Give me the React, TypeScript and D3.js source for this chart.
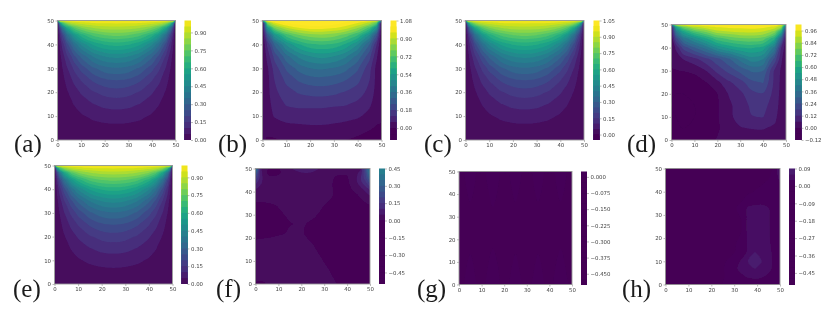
import React, { useEffect, useRef } from 'react';
import * as d3 from 'd3';

// grid nodes the values were read at (denser where the field changes fast)
const halfXs = [0, 1, 2, 4, 7, 10, 15, 20, 25];
const wideXs = [0, 2, 5, 10, 15, 20, 25, 30, 35, 40, 45, 48, 50];
const wideYs = [0, 5, 10, 15, 20, 25, 30, 35, 40, 44, 47, 49, 50];
const fXs = [0, 2, 4, 6, 10, 15, 20, 25, 30, 35, 40, 44, 46, 48, 50];
const fYs = [0, 6, 12, 18, 22, 26, 30, 34, 38, 41, 44, 46, 48, 50];
const gXs = [0, 5, 10, 15, 20, 25, 30, 35, 40, 45, 50];
const gYs = [0, 2, 25, 48, 49, 50];
const hXs = [0, 10, 20, 25, 30, 33, 36, 39, 42, 45, 47, 50];
const hYs = [0, 3, 7, 10, 14, 18, 23, 28, 33, 36, 40, 44, 47, 50];

// left half of the symmetric field in (a), (c), (e), bottom row first
const lidHalfRows = [
  [0, 0, 0, 0, 0, 0, 0, 0, 0],
  [0, .002, .004, .009, .015, .021, .029, .034, .036],
  [0, .005, .009, .019, .032, .044, .061, .071, .075],
  [0, .008, .015, .03, .052, .072, .098, .115, .121],
  [0, .011, .023, .045, .077, .106, .145, .168, .177],
  [0, .017, .033, .066, .112, .153, .207, .239, .25],
  [0, .024, .048, .095, .161, .218, .289, .332, .345],
  [0, .036, .072, .142, .236, .312, .403, .452, .468],
  [0, .059, .117, .225, .359, .457, .557, .606, .621],
  [0, .103, .2, .364, .531, .63, .717, .755, .766],
  [0, .204, .373, .586, .734, .802, .854, .875, .881],
  [0, .5, .705, .842, .907, .932, .951, .958, .96],
  [.5, .99, .99, .99, .99, .99, .99, .99, .99],
];

const bRows = [
  [.005, -.005, -.005, .005, .01, .01, .01, .005, 0, -.01, -.02, -.01, -.005],
  [.01, .015, .025, .04, .045, .05, .05, .045, .035, .02, .005, -.005, -.005],
  [.01, .03, .065, .085, .09, .09, .09, .085, .08, .07, .04, .015, .005],
  [.01, .035, .085, .125, .135, .135, .135, .13, .125, .105, .07, .03, .01],
  [.005, .04, .105, .155, .185, .2, .205, .195, .175, .15, .1, .035, .005],
  [0, .04, .12, .195, .245, .27, .275, .265, .24, .195, .12, .04, 0],
  [-.005, .05, .145, .25, .32, .36, .37, .355, .32, .25, .14, .04, -.005],
  [0, .08, .2, .34, .43, .48, .5, .48, .43, .34, .2, .07, -.005],
  [0, .13, .31, .49, .59, .65, .665, .65, .59, .48, .3, .12, 0],
  [0, .27, .52, .7, .78, .82, .83, .81, .76, .67, .48, .25, 0],
  [0, .52, .78, .9, .96, .99, .99, .97, .93, .85, .7, .48, 0],
  [0, .8, .95, 1.03, 1.06, 1.07, 1.07, 1.05, 1.01, .96, .88, .75, 0],
  [.6, 1, 1.03, 1.07, 1.08, 1.08, 1.08, 1.07, 1.05, 1.02, 1, .95, .5],
];

const dRows = [
  [-.03, -.03, -.03, -.03, -.02, .003, .01, .02, .03, .03, .02, .01, .005],
  [-.04, -.05, -.06, -.05, -.03, -.005, .02, .055, .062, .063, .05, .03, .01],
  [-.05, -.06, -.07, -.06, -.03, -.005, .045, .085, .118, .122, .075, .03, .01],
  [-.06, -.07, -.075, -.06, -.035, -.005, .045, .095, .13, .14, .09, .035, .01],
  [-.05, -.06, -.06, -.05, -.03, 0, .065, .105, .16, .175, .1, .04, .01],
  [-.04, -.04, -.035, -.025, -.002, .045, .11, .155, .225, .245, .105, .045, .01],
  [-.002, -.002, .002, .012, .06, .14, .2, .26, .31, .3, .11, .05, .01],
  [.005, .02, .06, .1, .16, .22, .29, .38, .45, .42, .22, .07, .01],
  [.01, .075, .2, .3, .39, .5, .56, .6, .61, .58, .4, .12, .02],
  [.02, .22, .38, .5, .6, .7, .74, .77, .78, .76, .62, .3, .03],
  [.04, .4, .58, .72, .8, .88, .9, .92, .92, .9, .82, .6, .1],
  [.1, .6, .78, .9, .94, .97, .98, .98, .99, .98, .95, .85, .3],
  [.5, .9, 1, 1.01, 1.01, 1.01, 1.01, 1.01, 1.01, 1.01, 1, .95, .6],
];

const fRows = [
  [-.002, -.003, -.002, .005, .01, .012, .012, .012, .01, .001, -.01, -.015, -.015, -.015, -.01],
  [.01, .012, .014, .015, .018, .02, .02, .018, .005, -.006, -.015, -.02, -.02, -.02, -.015],
  [.012, .014, .016, .018, .02, .02, .018, .008, -.004, -.012, -.02, -.025, -.025, -.025, -.02],
  [.004, .006, .008, .01, .012, .014, .01, -.001, -.01, -.018, -.025, -.03, -.03, -.03, -.025],
  [-.01, -.01, -.01, -.009, -.004, .003, .002, -.006, -.014, -.02, -.025, -.03, -.03, -.03, -.025],
  [-.015, -.015, -.014, -.012, -.007, -.001, .003, -.004, -.012, -.02, -.025, -.03, -.03, -.03, -.02],
  [-.012, -.012, -.01, -.008, -.003, .003, .008, .004, -.006, -.016, -.022, -.025, -.025, -.02, -.015],
  [-.006, -.006, -.005, -.003, .001, .006, .01, .01, 0, -.01, -.016, -.018, -.016, -.01, -.005],
  [.01, .01, .01, .01, .012, .014, .014, .014, .008, -.003, -.01, -.006, .005, .02, .04],
  [.05, .03, .015, .012, .012, .014, .014, .014, .006, -.002, -.01, .01, .035, .07, .11],
  [.12, .07, .025, .008, .008, .012, .015, .016, .006, -.002, -.01, .04, .09, .14, .22],
  [.2, .09, .015, .003, .005, .012, .018, .02, .008, -.001, -.005, .045, .1, .18, .3],
  [.3, .09, .005, -.004, -.003, .012, .045, .04, .01, .002, .005, .03, .08, .2, .38],
  [.45, .06, .02, -.01, -.008, .04, .09, .08, .02, .005, .008, .02, .045, .2, .4],
];

const gRows = [
  [-.004, .004, -.003, .004, -.004, .004, -.003, .004, -.004, .004, -.002],
  [-.002, .002, -.002, .003, -.002, .002, -.002, .002, -.002, .003, -.002],
  [-.002, -.002, -.002, -.002, -.002, -.002, -.002, -.002, -.002, -.002, -.002],
  [-.002, .002, -.002, .003, -.002, .002, -.002, .002, -.002, .002, -.002],
  [-.002, .002, -.002, .003, -.002, .002, -.002, .002, -.002, .002, -.002],
  [.024, .024, .024, .024, .024, .024, .024, .024, .024, .024, .024],
];

const hRows = [
  [-.03, -.02, -.005, 0, .01, .014, .018, .02, .018, .012, .008, .003],
  [-.03, -.02, -.008, -.002, .012, .022, .03, .032, .03, .024, .014, .004],
  [-.03, -.02, -.01, -.003, .022, .038, .054, .061, .052, .036, .026, .006],
  [-.03, -.02, -.012, -.006, .014, .032, .06, .068, .06, .038, .027, .006],
  [-.03, -.022, -.014, -.008, -.002, .016, .033, .06, .05, .036, .026, .006],
  [-.03, -.022, -.016, -.01, -.004, .008, .034, .045, .044, .033, .024, .006],
  [-.03, -.024, -.018, -.012, -.006, -.001, .036, .04, .04, .032, .023, .006],
  [-.03, -.024, -.018, -.012, -.006, -.001, .036, .04, .04, .032, .02, .005],
  [-.03, -.024, -.018, -.012, -.004, .01, .033, .036, .036, .03, .02, .005],
  [-.03, -.024, -.018, -.012, -.006, -.002, .012, .02, .022, .018, .012, .004],
  [-.03, -.024, -.018, -.014, -.01, -.007, -.005, .001, .008, .012, .012, .005],
  [-.03, -.024, -.018, -.014, -.012, -.01, -.008, -.006, -.004, .004, .022, .03],
  [-.03, -.024, -.018, -.014, -.012, -.01, -.01, -.008, -.007, -.005, .008, .04],
  [-.03, -.024, -.018, -.014, -.012, -.012, -.012, -.012, -.012, -.01, 0, .05],
];

// contour levels and colorbar ticks of each panel
const levelsA = d3.range(0, 21).map(i => i * .05);
const levelsB = d3.range(0, 21).map(i => -.12 + i * .06);
const levelsC = d3.range(0, 23).map(i => -.05 + i * .05);
const levelsD = d3.range(0, 20).map(i => -.12 + i * .06);
const levelsF = d3.range(0, 21).map(i => -.55 + i * .05);
const levelsG = d3.range(0, 22).map(i => -.5 + i * .025);
const levelsH = d3.range(0, 21).map(i => -.51 + i * .03);

const ticksA = [0, .15, .3, .45, .6, .75, .9];
const ticksB = [0, .18, .36, .54, .72, .9, 1.08];
const ticksC = [0, .15, .3, .45, .6, .75, .9, 1.05];
const ticksD = [-.12, 0, .12, .24, .36, .48, .6, .72, .84, .96];
const ticksF = [-.45, -.3, -.15, 0, .15, .3, .45];
const ticksG = [-.45, -.375, -.3, -.225, -.15, -.075, 0];
const ticksH = [-.45, -.36, -.27, -.18, -.09, 0, .09];

const axisTicks = [0, 10, 20, 30, 40, 50];

const mirror = (row: number[]) => [...row, ...row.slice(0, -1).reverse()];
const lidXs = mirror(halfXs).map((v, i) => (i < halfXs.length ? v : 50 - v));
const lidRows = lidHalfRows.map(mirror);

const panels = [
  { label: '(a)', lx: 14, ly: 152, box: [57.5, 20.5, 175.5, 140], cb: [184.5, 191], xs: lidXs, ys: wideYs, rows: lidRows, levels: levelsA, ticks: ticksA, fmt: '.2f' },
  { label: '(b)', lx: 218, ly: 152, box: [262.5, 20.5, 381.5, 140], cb: [390.5, 396.5], xs: wideXs, ys: wideYs, rows: bRows, levels: levelsB, ticks: ticksB, fmt: '.2f' },
  { label: '(c)', lx: 424, ly: 152, box: [465.5, 20.5, 584, 140], cb: [593.5, 599.5], xs: lidXs, ys: wideYs, rows: lidRows, levels: levelsC, ticks: ticksC, fmt: '.2f' },
  { label: '(d)', lx: 627, ly: 152, box: [671.5, 24.5, 786, 140], cb: [795.5, 801.5], xs: wideXs, ys: wideYs, rows: dRows, levels: levelsD, ticks: ticksD, fmt: '.2f' },
  { label: '(e)', lx: 13, ly: 297, box: [54.5, 165.5, 172.5, 284], cb: [181.5, 187.5], xs: lidXs, ys: wideYs, rows: lidRows, levels: levelsA, ticks: ticksA, fmt: '.2f' },
  { label: '(f)', lx: 216, ly: 297, box: [255.5, 168.5, 370, 284], cb: [379, 385], xs: fXs, ys: fYs, rows: fRows, levels: levelsF, ticks: ticksF, fmt: '.2f' },
  { label: '(g)', lx: 417, ly: 297, box: [459, 171.5, 572, 284.5], cb: [581, 587], xs: gXs, ys: gYs, rows: gRows, levels: levelsG, ticks: ticksG, fmt: '.3f' },
  { label: '(h)', lx: 622, ly: 297, box: [665.5, 168.5, 780, 284.5], cb: [789, 795], xs: hXs, ys: hYs, rows: hRows, levels: levelsH, ticks: ticksH, fmt: '.2f' },
];

// colors are clipped to 0..1, that is why the negative bands all look the same
const bandColor = (lo: number, hi: number) =>
  d3.interpolateViridis(Math.max(0, Math.min(1, (lo + hi) / 2)));

export default function App() {
  const ref = useRef<SVGSVGElement>(null);

  useEffect(() => {
    const svg = d3.select(ref.current);
    svg.selectAll('*').remove();

    const defs = svg.append('defs');
    defs.append('filter').attr('id', 'soft').append('feGaussianBlur').attr('stdDeviation', 0.45);
    const root = svg.append('g').attr('filter', 'url(#soft)');

    // closed spline through the contour vertices, the raw ones look too angular
    const ringLine = d3.line().curve(d3.curveCatmullRomClosed.alpha(0.5));

    panels.forEach((p, n) => {
      const [x0, y0, x1, y1] = p.box;
      const x = d3.scaleLinear().domain([0, 50]).range([x0, x1]);
      const y = d3.scaleLinear().domain([0, 50]).range([y1, y0]);

      defs.append('clipPath').attr('id', `clip${n}`)
        .append('rect').attr('x', x0).attr('y', y0).attr('width', x1 - x0).attr('height', y1 - y0);

      const g = root.append('g');
      const nx = p.xs.length, ny = p.ys.length;
      // d3 puts grid node i at coordinate i + 0.5
      const px = d3.scaleLinear().domain(d3.range(nx).map(i => i + .5)).range(p.xs.map(v => x(v))).clamp(true);
      const py = d3.scaleLinear().domain(d3.range(ny).map(i => i + .5)).range(p.ys.map(v => y(v))).clamp(true);
      const ringsToPath = (c: any) =>
        c.coordinates.flat().map((ring: number[][]) => {
          const pts: [number, number][] = [];
          ring.slice(0, -1).forEach(pt => {
            const q: [number, number] = [px(pt[0]), py(pt[1])];
            const last = pts[pts.length - 1];
            if (!last || Math.hypot(q[0] - last[0], q[1] - last[1]) > 0.01) pts.push(q);
          });
          return pts.length > 2 ? ringLine(pts) : '';
        }).join('');

      const bands = d3.pairs(p.levels);
      const plot = g.append('g').attr('clip-path', `url(#clip${n})`);
      plot.append('rect').attr('x', x0).attr('y', y0).attr('width', x1 - x0).attr('height', y1 - y0)
        .attr('fill', bandColor(bands[0][0], bands[0][1]));

      const contours = d3.contours().size([nx, ny]).thresholds(bands.map(b => b[0]).slice(1))(p.rows.flat());
      plot.selectAll('path').data(contours).join('path')
        .attr('d', ringsToPath)
        .attr('fill', (c: any, i: number) => bandColor(bands[i + 1][0], bands[i + 1][1]));

      // axes
      const xAxis = g.append('g').attr('transform', `translate(0,${y1})`)
        .call(d3.axisBottom(x).tickValues(axisTicks).tickSize(2).tickPadding(1.5));
      const yAxis = g.append('g').attr('transform', `translate(${x0},0)`)
        .call(d3.axisLeft(y).tickValues(axisTicks).tickSize(2).tickPadding(1.5));
      g.append('rect').attr('x', x0).attr('y', y0).attr('width', x1 - x0).attr('height', y1 - y0)
        .attr('fill', 'none').attr('stroke', '#9a9a9a').attr('stroke-width', 0.9);

      // colorbar, each band runs down to the bar's foot so no seams show
      const [c0, c1] = p.cb;
      const lo = p.levels[0], hi = p.levels[p.levels.length - 1];
      const cy = d3.scaleLinear().domain([lo, hi]).range([y1, y0]);
      g.append('g').selectAll('rect').data([...bands].reverse()).join('rect')
        .attr('x', c0).attr('width', c1 - c0)
        .attr('y', (b: number[]) => cy(b[1]))
        .attr('height', (b: number[]) => y1 - cy(b[1]))
        .attr('fill', (b: number[]) => bandColor(b[0], b[1]));
      const tf = d3.format(p.fmt);
      const cAxis = g.append('g').attr('transform', `translate(${c1},0)`)
        .call(d3.axisRight(cy).tickValues(p.ticks).tickSize(2).tickPadding(1.5)
          .tickFormat((v: any) => tf(Math.abs(v) < 1e-9 ? 0 : v).replace('-', '\u2212')));

      [xAxis, yAxis, cAxis].forEach(a => {
        a.select('.domain').remove();
        a.selectAll('line').attr('stroke', '#777').attr('stroke-width', 0.5);
        a.selectAll('text').attr('fill', '#444').attr('font-size', 5.4).attr('font-family', 'DejaVu Sans');
      });

      g.append('text').attr('x', p.lx).attr('y', p.ly).text(p.label)
        .attr('font-family', 'Liberation Serif').attr('font-size', 25).attr('fill', '#1a1a1a');
    });
  }, []);

  return (
    <svg ref={ref} width={824} height={319} style={{ position: 'absolute', left: 0, top: 0, display: 'block' }} />
  );
}
